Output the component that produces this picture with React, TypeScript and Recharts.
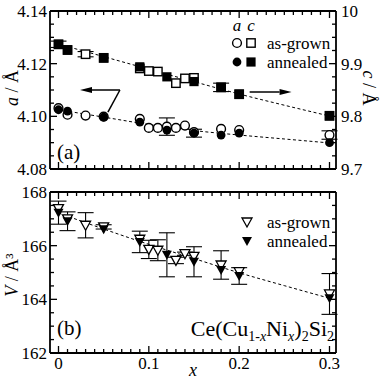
import React from "react";
import {
  ComposedChart,
  ErrorBar,
  Line,
  ReferenceLine,
  Scatter,
  XAxis,
  YAxis,
} from "recharts";

const FONT = "'Liberation Serif', 'Times New Roman', Times, serif";
const INK = "#000";

// ---- lattice parameter a (Å), left axis of panel (a)
const aGrownX = [0, 0.01, 0.03, 0.05, 0.09, 0.1, 0.11, 0.12, 0.13, 0.14, 0.15, 0.18, 0.2, 0.3];
const aGrownY = [4.1031, 4.1006, 4.1003, 4.0999, 4.099, 4.0956, 4.0956, 4.0961, 4.0956, 4.0965, 4.094, 4.0952, 4.0948, 4.0929];
const aGrownErr = [0, 0, 0, 0, 0, 0, 0, 0.0033, 0, 0, 0, 0, 0, 0.0016];

const aAnnX = [0, 0.01, 0.05, 0.09, 0.12, 0.15, 0.18, 0.2, 0.3];
const aAnnY = [4.1025, 4.102, 4.0997, 4.0978, 4.0948, 4.0936, 4.0929, 4.0936, 4.09];
const aAnnErr = [0, 0, 0, 0, 0, 0.0015, 0, 0, 0];

// ---- lattice parameter c (Å), right axis of panel (a)
const cGrownX = [0, 0.01, 0.03, 0.05, 0.09, 0.1, 0.11, 0.13, 0.14, 0.15, 0.18, 0.2, 0.3];
const cGrownY = [9.9368, 9.926, 9.918, 9.911, 9.891, 9.886, 9.885, 9.863, 9.872, 9.873, 9.855, 9.842, 9.801];
const cGrownErr = [0.006, 0, 0.005, 0, 0, 0, 0, 0, 0, 0, 0, 0, 0];

const cAnnX = [0, 0.01, 0.05, 0.09, 0.12, 0.15, 0.18, 0.2, 0.3];
const cAnnY = [9.9365, 9.926, 9.911, 9.894, 9.875, 9.866, 9.855, 9.842, 9.801];
const cAnnErr = [0, 0, 0, 0, 0, 0, 0.008, 0, 0];

// ---- cell volume V (Å^3), panel (b)
const vGrownX = [0, 0.01, 0.03, 0.05, 0.09, 0.1, 0.11, 0.13, 0.14, 0.15, 0.18, 0.2, 0.3];
const vGrownY = [167.38, 167.0, 166.76, 166.7, 166.24, 165.86, 165.83, 165.45, 165.7, 165.6, 165.28, 165.03, 164.2];
const vGrownErr = [0, 0, 0.47, 0.08, 0, 0.34, 0.39, 0.12, 0.06, 0, 0.53, 0, 0.76];

const vAnnX = [0, 0.01, 0.05, 0.09, 0.12, 0.15, 0.18, 0.2, 0.3];
const vAnnY = [167.23, 166.91, 166.61, 166.14, 165.66, 165.4, 165.09, 164.87, 164.04];
const vAnnErr = [0.43, 0.35, 0, 0.4, 0.82, 0.56, 0, 0.31, 0];

// ---- dashed guide curves
const fitX = [0, 0.05, 0.1, 0.15, 0.2, 0.25, 0.3];
const aFitY = [4.1025, 4.0997, 4.0969, 4.0946, 4.0929, 4.0914, 4.0899];
const cFitY = [9.9372, 9.9134, 9.8895, 9.8658, 9.8424, 9.8211, 9.8006];
const vFitY = [167.22, 166.62, 166.05, 165.52, 164.99, 164.51, 164.04];

// axis ticks
const xMajor = [0, 0.1, 0.2, 0.3];
const aMajor = [4.08, 4.1, 4.12, 4.14];
const cMajor = [9.7, 9.8, 9.9, 10];
const vMajor = [162, 164, 166, 168];

const X_DOMAIN: [number, number] = [-0.0094, 0.3072];

const points = (xs: number[], ys: number[], errs?: number[]) =>
  xs.map((x, i) => ({ x, y: ys[i], err: errs ? errs[i] : 0 }));

const steps = (from: number, to: number, step: number) => {
  const out: number[] = [];
  const n = Math.round((to - from) / step);
  for (let i = 0; i <= n; i++) out.push(Number((from + i * step).toFixed(4)));
  return out;
};

const isMajor = (v: number, majors: number[]) => majors.some((m) => Math.abs(m - v) < 1e-6);

type Side = "top" | "bottom" | "left" | "right";

function makeTick(side: Side, majors: number[], fmt: ((v: number) => string) | null) {
  return (props: any) => {
    const { x, y, payload } = props;
    const v = Number(payload.value);
    const major = isMajor(v, majors);
    const len = major ? 7 : 4;
    let x2 = x;
    let y2 = y;
    if (side === "bottom") y2 = y - len;
    if (side === "top") y2 = y + len;
    if (side === "left") x2 = x + len;
    if (side === "right") x2 = x - len;
    let label = null;
    if (fmt && major) {
      const common = { style: { fontFamily: FONT }, fontSize: 17, fill: INK, dy: "0.35em" };
      if (side === "bottom") label = <text x={x} y={y + 10} textAnchor="middle" {...common}>{fmt(v)}</text>;
      if (side === "left") label = <text x={x - 3} y={y} textAnchor="end" {...common}>{fmt(v)}</text>;
      if (side === "right") label = <text x={x + 5} y={y} textAnchor="start" {...common}>{fmt(v)}</text>;
    }
    return (
      <g>
        <line x1={x} y1={y} x2={x2} y2={y2} stroke={INK} strokeWidth={1.3} />
        {label}
      </g>
    );
  };
}

const fmtX = (v: number) => (v === 0 ? "0" : String(v));
const fmtA = (v: number) => v.toFixed(2);
const fmtC = (v: number) => (v === 10 ? "10" : v.toFixed(1));
const fmtV = (v: number) => String(v);

const AXIS_LINE = { stroke: INK, strokeWidth: 1.8 };
const axisCommon = {
  tickLine: false,
  tickSize: 0,
  tickMargin: 0,
  interval: 0 as const,
  axisLine: AXIS_LINE,
  allowDataOverflow: true,
};

const OpenCircle = (p: any) => <circle cx={p.cx} cy={p.cy} r={4.4} fill="#fff" stroke={INK} strokeWidth={1.4} />;
const FilledCircle = (p: any) => <circle cx={p.cx} cy={p.cy} r={4.4} fill={INK} />;
const OpenSquare = (p: any) => (
  <rect x={p.cx - 4.2} y={p.cy - 4.2} width={8.4} height={8.4} fill="#fff" stroke={INK} strokeWidth={1.4} />
);
const FilledSquare = (p: any) => <rect x={p.cx - 4.6} y={p.cy - 4.6} width={9.2} height={9.2} fill={INK} />;
const triPath = (cx: number, cy: number) => `M${cx - 5},${cy - 4} L${cx + 5},${cy - 4} L${cx},${cy + 5} Z`;
const OpenTri = (p: any) => <path d={triPath(p.cx, p.cy)} fill="#fff" stroke={INK} strokeWidth={1.3} />;
const FilledTri = (p: any) => <path d={triPath(p.cx, p.cy)} fill={INK} />;

function arrowShape(head: boolean) {
  return (p: any) => {
    const { x1, y1, x2, y2 } = p;
    const dx = x2 - x1;
    const dy = y2 - y1;
    const L = Math.hypot(dx, dy) || 1;
    const ux = dx / L;
    const uy = dy / L;
    const hl = 12;
    const hw = 3;
    const bx = x2 - ux * hl;
    const by = y2 - uy * hl;
    return (
      <g>
        <line x1={x1} y1={y1} x2={head ? bx : x2} y2={head ? by : y2} stroke={INK} strokeWidth={1.5} />
        {head && (
          <path
            d={`M${x2},${y2} L${bx - uy * hw},${by + ux * hw} L${bx + uy * hw},${by - ux * hw} Z`}
            fill={INK}
          />
        )}
      </g>
    );
  };
}

const DASH = { stroke: INK, strokeWidth: 1, strokeDasharray: "3 2.5", dot: false, activeDot: false, isAnimationActive: false };

function TopPanel() {
  return (
    <ComposedChart width={382} height={180} margin={{ top: 0, right: 0, bottom: 0, left: 0 }}>
      <XAxis type="number" dataKey="x" domain={X_DOMAIN} ticks={steps(0, 0.3, 0.01)} height={11}
        tick={makeTick("bottom", xMajor, null)} {...axisCommon} />
      <XAxis xAxisId="top" orientation="top" type="number" dataKey="x" domain={X_DOMAIN} ticks={steps(0, 0.3, 0.01)} height={11}
        tick={makeTick("top", xMajor, null)} {...axisCommon} />
      <YAxis yAxisId="a" type="number" domain={[4.08, 4.14]} ticks={steps(4.08, 4.14, 0.005)} width={50}
        tick={makeTick("left", aMajor, fmtA)} {...axisCommon} />
      <YAxis yAxisId="c" orientation="right" type="number" domain={[9.7, 10]} ticks={steps(9.7, 10, 0.025)} width={46}
        tick={makeTick("right", cMajor, fmtC)} {...axisCommon} />

      <Line yAxisId="a" data={points(fitX, aFitY)} dataKey="y" type="monotone" {...DASH} />
      <Line yAxisId="c" data={points(fitX, cFitY)} dataKey="y" type="monotone" {...DASH} />

      <Scatter yAxisId="c" data={points(cGrownX, cGrownY, cGrownErr)} dataKey="y" shape={OpenSquare} isAnimationActive={false}>
        <ErrorBar dataKey="err" direction="y" width={8} stroke={INK} strokeWidth={1.1} />
      </Scatter>
      <Scatter yAxisId="c" data={points(cAnnX, cAnnY, cAnnErr)} dataKey="y" shape={FilledSquare} isAnimationActive={false}>
        <ErrorBar dataKey="err" direction="y" width={8} stroke={INK} strokeWidth={1.1} />
      </Scatter>
      <Scatter yAxisId="a" data={points(aGrownX, aGrownY, aGrownErr)} dataKey="y" shape={OpenCircle} isAnimationActive={false}>
        <ErrorBar dataKey="err" direction="y" width={8} stroke={INK} strokeWidth={1.1} />
      </Scatter>
      <Scatter yAxisId="a" data={points(aAnnX, aAnnY, aAnnErr)} dataKey="y" shape={FilledCircle} isAnimationActive={false}>
        <ErrorBar dataKey="err" direction="y" width={8} stroke={INK} strokeWidth={1.1} />
      </Scatter>

      <ReferenceLine yAxisId="a" ifOverflow="visible" segment={[{ x: 0.0547, y: 4.1016 }, { x: 0.068, y: 4.11 }]} shape={arrowShape(false)} />
      <ReferenceLine yAxisId="a" ifOverflow="visible" segment={[{ x: 0.068, y: 4.11 }, { x: 0.0238, y: 4.11 }]} shape={arrowShape(true)} />
      <ReferenceLine yAxisId="c" ifOverflow="visible" segment={[{ x: 0.2116, y: 9.8462 }, { x: 0.258, y: 9.8462 }]} shape={arrowShape(true)} />
    </ComposedChart>
  );
}

function BottomPanel() {
  return (
    <ComposedChart width={382} height={202} margin={{ top: 0, right: 0, bottom: 0, left: 0 }}>
      <XAxis type="number" dataKey="x" domain={X_DOMAIN} ticks={steps(0, 0.3, 0.01)} height={29}
        tick={makeTick("bottom", xMajor, fmtX)} {...axisCommon} />
      <XAxis xAxisId="top" orientation="top" type="number" dataKey="x" domain={X_DOMAIN} ticks={steps(0, 0.3, 0.01)} height={12}
        tick={makeTick("top", xMajor, null)} {...axisCommon} />
      <YAxis yAxisId="v" type="number" domain={[162, 168]} ticks={steps(162, 168, 0.5)} width={50}
        tick={makeTick("left", vMajor, fmtV)} {...axisCommon} />
      <YAxis yAxisId="r" orientation="right" type="number" domain={[162, 168]} ticks={steps(162, 168, 0.5)} width={46}
        tick={makeTick("right", vMajor, null)} {...axisCommon} />

      <Line yAxisId="v" data={points(fitX, vFitY)} dataKey="y" type="monotone" {...DASH} />

      <Scatter yAxisId="v" data={points(vGrownX, vGrownY, vGrownErr)} dataKey="y" shape={OpenTri} isAnimationActive={false}>
        <ErrorBar dataKey="err" direction="y" width={8} stroke={INK} strokeWidth={1.1} />
      </Scatter>
      <Scatter yAxisId="v" data={points(vAnnX, vAnnY, vAnnErr)} dataKey="y" shape={FilledTri} isAnimationActive={false}>
        <ErrorBar dataKey="err" direction="y" width={8} stroke={INK} strokeWidth={1.1} />
      </Scatter>
    </ComposedChart>
  );
}

function Overlay() {
  const t = { style: { fontFamily: FONT }, fill: INK };
  const sub = 14;
  return (
    <svg width={382} height={382} style={{ position: "absolute", left: 0, top: 0, pointerEvents: "none" }}>
      {/* legend, panel (a) */}
      <text x={237} y={31} textAnchor="middle" fontSize={17} fontStyle="italic" {...t}>a</text>
      <text x={251} y={31} textAnchor="middle" fontSize={17} fontStyle="italic" {...t}>c</text>
      <circle cx={237} cy={43} r={4.4} fill="#fff" stroke={INK} strokeWidth={1.4} />
      <rect x={246.8} y={38.8} width={8.4} height={8.4} fill="#fff" stroke={INK} strokeWidth={1.4} />
      <text x={267} y={43} dy="0.35em" fontSize={17} {...t}>as-grown</text>
      <circle cx={237} cy={62} r={4.4} fill={INK} />
      <rect x={246.4} y={57.4} width={9.2} height={9.2} fill={INK} />
      <text x={267} y={62} dy="0.35em" fontSize={17} {...t}>annealed</text>

      {/* legend, panel (b) */}
      <path d={triPath(247, 222)} fill="#fff" stroke={INK} strokeWidth={1.3} />
      <text x={267} y={222} dy="0.35em" fontSize={17} {...t}>as-grown</text>
      <path d={triPath(247, 241)} fill={INK} />
      <text x={267} y={241} dy="0.35em" fontSize={17} {...t}>annealed</text>

      <text x={57} y={159} fontSize={21} {...t}>(a)</text>
      <text x={57} y={335} fontSize={21} {...t}>(b)</text>

      <text x={334} y={336} textAnchor="end" fontSize={22} {...t}>
        Ce(Cu
        <tspan fontSize={sub} dy={5}>1-</tspan>
        <tspan fontSize={sub} fontStyle="italic">x</tspan>
        <tspan dy={-5}>Ni</tspan>
        <tspan fontSize={sub} fontStyle="italic" dy={5}>x</tspan>
        <tspan dy={-5}>)</tspan>
        <tspan fontSize={sub} dy={5}>2</tspan>
        <tspan dy={-5}>Si</tspan>
        <tspan fontSize={sub} dy={5}>2</tspan>
      </text>

      {/* axis titles */}
      <text transform="translate(18,88) rotate(-90)" textAnchor="middle" fontSize={18} {...t}>
        <tspan fontStyle="italic">a</tspan> / Å
      </text>
      <text transform="translate(363,88) rotate(90)" textAnchor="middle" fontSize={18} {...t}>
        <tspan fontStyle="italic">c</tspan> / Å
      </text>
      <text transform="translate(18,275) rotate(-90)" textAnchor="middle" fontSize={18} {...t}>
        <tspan fontStyle="italic">V</tspan> / Å³
      </text>
      <text x={193} y={376} textAnchor="middle" fontSize={18} fontStyle="italic" {...t}>x</text>
    </svg>
  );
}

export default function App() {
  return (
    <div style={{ position: "absolute", left: 0, top: 0, width: 382, height: 382, background: "#fff", fontFamily: FONT }}>
      <style>{`svg text { font-family: 'Liberation Serif', 'Times New Roman', serif; }`}</style>
      <div style={{ position: "absolute", left: 0, top: 0 }}>
        <TopPanel />
      </div>
      <div style={{ position: "absolute", left: 0, top: 180 }}>
        <BottomPanel />
      </div>
      <Overlay />
    </div>
  );
}
